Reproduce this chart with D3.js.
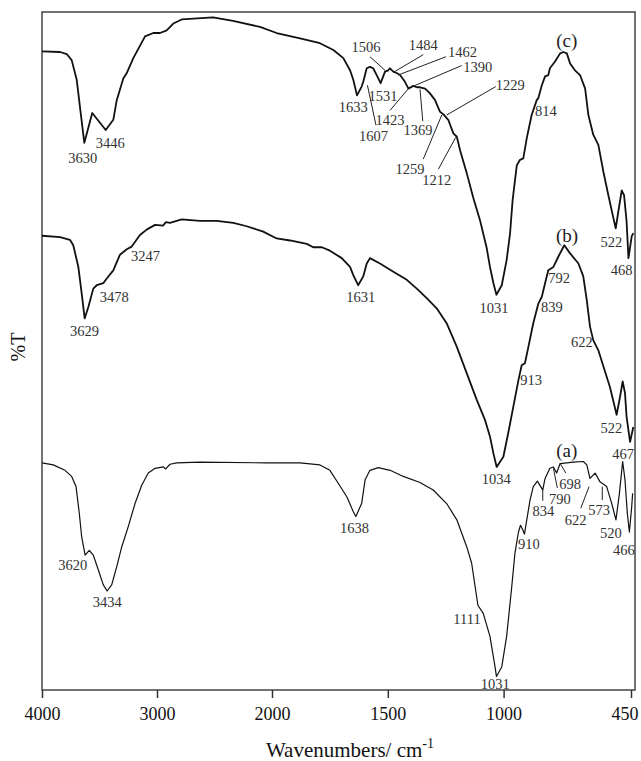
<!DOCTYPE html>
<html>
<head>
<meta charset="utf-8">
<script src="https://cdn.jsdelivr.net/npm/d3@7"></script>
<style>
  body { margin: 0; background: #fff; }
  svg { display: block; }
  text { font-family: "Liberation Serif", "Times New Roman", serif; }
</style>
</head>
<body>
<div id="chart"></div>
<script>
// tick labels on the wavenumber axis (scale changes at 2000)
var xTicks = [4000, 3000, 2000, 1500, 1000, 450];

// spectra: [wavenumber, %T]  (offset as stacked in the figure)
var specC = [[4000,94.2],[3843,94.1],[3785,93.8],[3742,92.9],[3698,90.0],[3670,86.0],[3632,80.7],[3563,85.1],
  [3446,82.6],[3380,84.1],[3350,87.0],[3293,90.2],[3263,91.0],[3206,93.2],[3104,96.4],[3032,96.9],[2974,96.9],
  [2916,97.3],[2858,98.3],[2785,98.9],[2513,99.2],[2339,98.7],[2104,97.8],[1980,96.9],[1879,96.1],[1793,95.4],
  [1735,94.4],[1692,93.2],[1663,91.4],[1649,90.0],[1633,87.7],[1613,89.0],[1606,89.7],[1591,91.7],[1577,91.9],
  [1563,91.7],[1548,90.7],[1531,89.5],[1512,91.2],[1498,91.4],[1491,91.7],[1476,91.2],[1462,91.0],[1447,90.7],
  [1426,89.7],[1411,88.7],[1390,89.1],[1375,88.9],[1361,88.9],[1339,88.7],[1318,88.0],[1296,87.0],[1275,85.3],
  [1257,84.8],[1239,84.1],[1217,82.1],[1202,81.6],[1188,79.6],[1159,76.2],[1131,72.6],[1102,69.3],[1073,65.2],
  [1059,62.4],[1044,60.0],[1031,58.3],[1008,59.7],[987,63.4],[972,67.4],[961,72.3],[943,77.4],[929,78.2],
  [915,78.4],[900,81.4],[879,84.8],[857,87.0],[850,87.3],[835,89.2],[821,90.5],[807,90.7],[800,91.7],[778,92.7],
  [756,93.9],[742,94.1],[727,93.9],[713,92.4],[692,91.4],[670,90.7],[648,88.7],[634,84.8],[613,81.9],[591,80.4],
  [569,76.4],[548,73.0],[526,69.6],[516,68.1],[505,70.5],[490,73.7],[480,73.0],[469,69.1],[461,63.7],[447,66.9],
  [440,67.4]];

var specB = [[4000,67.0],[3843,66.8],[3757,66.4],[3728,65.6],[3684,62.4],[3655,58.5],[3629,54.8],[3597,56.5],
  [3554,59.2],[3524,59.7],[3467,60.0],[3437,60.7],[3380,61.9],[3322,64.2],[3263,65.0],[3220,65.4],[3148,67.1],
  [3090,67.9],[3017,68.6],[2948,68.5],[2922,69.0],[2887,68.9],[2785,69.4],[2626,69.2],[2481,69.2],[2336,68.9],
  [2220,68.4],[2076,67.6],[1980,66.6],[1922,66.3],[1850,65.8],[1822,65.3],[1785,65.3],[1750,64.8],[1699,63.7],
  [1663,62.4],[1649,61.2],[1628,59.7],[1606,61.0],[1591,62.9],[1577,63.7],[1534,62.9],[1476,61.7],[1418,60.5],
  [1375,59.2],[1332,57.8],[1289,56.3],[1246,54.1],[1202,50.6],[1159,46.7],[1116,42.8],[1080,39.8],[1059,37.4],
  [1044,34.9],[1030,32.9],[1001,34.4],[980,37.9],[958,41.8],[936,45.7],[922,47.9],[908,48.2],[893,50.6],
  [872,54.1],[850,57.0],[835,58.0],[821,60.0],[807,61.9],[785,62.4],[764,63.9],[738,65.6],[713,64.4],[677,62.9],
  [656,61.0],[641,57.5],[627,53.6],[613,51.6],[591,50.1],[569,47.7],[541,44.7],[512,40.6],[497,43.3],[486,45.5],
  [476,43.8],[469,40.3],[454,36.6],[440,38.8]];

var specA = [[4000,33.5],[3902,33.2],[3800,32.4],[3742,31.5],[3704,30.0],[3676,26.1],[3655,22.6],[3625,19.9],
  [3589,20.6],[3554,19.9],[3510,17.7],[3467,15.5],[3434,14.6],[3394,15.5],[3350,18.2],[3307,21.1],[3250,24.1],
  [3191,27.5],[3133,30.2],[3076,32.0],[3017,32.7],[2945,32.9],[2924,32.6],[2887,33.3],[2829,33.5],[2626,33.6],
  [2046,33.5],[1879,33.5],[1793,33.2],[1750,32.4],[1714,30.5],[1677,28.5],[1649,26.3],[1638,25.6],[1613,27.5],
  [1598,31.0],[1577,32.4],[1541,32.8],[1490,32.4],[1433,31.5],[1361,30.6],[1304,29.5],[1246,27.5],[1202,25.1],
  [1159,21.1],[1138,18.7],[1111,12.5],[1088,11.3],[1059,7.9],[1037,3.4],[1031,2.0],[1008,3.4],[987,7.9],
  [965,15.2],[951,20.2],[936,23.3],[927,24.3],[917,23.6],[910,23.0],[900,25.1],[886,28.0],[872,30.0],[854,30.8],
  [840,30.0],[831,29.5],[821,31.2],[800,32.7],[785,32.9],[771,32.0],[756,33.4],[699,33.6],[656,33.7],[641,33.2],
  [627,31.2],[605,32.0],[584,30.7],[555,30.0],[533,27.5],[515,25.1],[500,29.0],[486,33.7],[476,31.0],[466,26.1],
  [457,23.3],[447,27.0],[443,29.0]];

// peak labels: [text, wavenumber, %T] (text centre / baseline)
var labelsC = [["3630",3645,77.8],["3446",3407,79.9],["1633",1649,85.2],["1531",1521,86.9],["1607",1562,81.0],
  ["1506",1594,94.1],["1484",1347,94.4],["1462",1177,93.4],["1390",1112,91.2],["1423",1490,83.3],["1369",1370,81.8],
  ["1229",971,88.5],["1259",1404,76.1],["1212",1289,74.5],["814",817,84.7],["522",535,65.4],["468",491,61.2]];
var labelsB = [["3629",3630,52.2],["3478",3372,57.3],["3247",3100,63.3],["1631",1617,57.2],["1031",1041,55.6],
  ["792",760,60.0],["839",792,55.8],["622",662,50.6],["913",881,45.0],["522",535,37.9],["467",484,34.0],
  ["1034",1032,30.4]];
var labelsA = [["3620",3732,17.7],["3434",3433,12.2],["1638",1644,23.2],["1111",1158,9.7],["1031",1036,0.1],
  ["910",891,20.8],["834",828,25.7],["790",757,27.5],["698",713,29.7],["622",689,24.3],["573",588,25.8],
  ["520",537,22.4],["466",481,19.9]];
var curveNames = [["(c)",727,94.9],["(b)",726,66.1],["(a)",727,34.4]];

// leader lines: [wn1, %T1, wn2, %T2]
var leaders = [[1577,93.4,1512,91.4],[1347,93.7,1476,91.1],[1249,93.4,1455,90.7],[1181,92.1,1387,89.1],
  [1490,85.5,1411,88.7],[1349,83.9,1361,88.6],[1551,83.3,1588,89.2],[1034,89.0,1246,84.8],[1347,78.3,1267,84.8],
  [1282,76.8,1207,81.5],
  [831,29.6,831,27.9],[768,29.8,785,32.7],[731,32.0,756,33.4],[667,26.8,631,30.0],[574,30.0,574,28.0]];

var W = 641, H = 761;
var plotLeft = 42, plotRight = 635, plotTop = 12, plotBottom = 690;

var svg = d3.select("#chart").append("svg")
  .attr("width", W)
  .attr("height", H);

// two linear pieces: 4000-2000 compressed, 2000-450 expanded
var x = d3.scaleLinear()
  .domain([4000, 2000, 450])
  .range([plotLeft, 272, 631]);
var y = d3.scaleLinear()
  .domain([0, 100])
  .range([plotBottom, plotTop]);

// frame
svg.append("rect")
  .attr("x", plotLeft)
  .attr("y", plotTop)
  .attr("width", plotRight - plotLeft)
  .attr("height", plotBottom - plotTop)
  .attr("fill", "none")
  .attr("stroke", "#444")
  .attr("stroke-width", 1.5);

// x axis
var xAxis = d3.axisBottom(x)
  .tickValues(xTicks)
  .tickFormat(d3.format("d"))
  .tickSizeInner(8)
  .tickSizeOuter(0)
  .tickPadding(9);
var gx = svg.append("g")
  .attr("transform", "translate(0," + plotBottom + ")")
  .call(xAxis);
gx.select(".domain").remove();
gx.selectAll(".tick line").attr("stroke", "#333").attr("stroke-width", 1.5);
gx.selectAll(".tick text")
  .attr("font-family", "Liberation Serif")
  .attr("font-size", 18)
  .attr("fill", "#111");
// last label sits just inside the page edge
gx.selectAll(".tick text")
  .filter(function(d){ return d == 450; })
  .attr("text-anchor", "end")
  .attr("x", 7);

// spectra
var line = d3.line()
  .x(function(d){ return x(d[0]); })
  .y(function(d){ return y(d[1]); });

[[specC, 1.8], [specB, 1.8], [specA, 1.2]].forEach(function(s){
  svg.append("path")
    .datum(s[0])
    .attr("d", line)
    .attr("fill", "none")
    .attr("stroke", "#111")
    .attr("stroke-width", s[1])
    .attr("stroke-linejoin", "round");
});

// leader lines
svg.selectAll(".leader")
  .data(leaders)
  .enter().append("line")
  .attr("class", "leader")
  .attr("x1", function(d){ return x(d[0]); })
  .attr("y1", function(d){ return y(d[1]); })
  .attr("x2", function(d){ return x(d[2]); })
  .attr("y2", function(d){ return y(d[3]); })
  .attr("stroke", "#222")
  .attr("stroke-width", 1);

// peak labels
var allLabels = labelsC.concat(labelsB, labelsA);
svg.selectAll(".peak")
  .data(allLabels)
  .enter().append("text")
  .attr("class", "peak")
  .attr("x", function(d){ return x(d[1]); })
  .attr("y", function(d){ return y(d[2]); })
  .attr("text-anchor", "middle")
  .attr("font-size", 14.5)
  .attr("fill", "#333")
  .text(function(d){ return d[0]; });

svg.selectAll(".cname")
  .data(curveNames)
  .enter().append("text")
  .attr("class", "cname")
  .attr("x", function(d){ return x(d[1]); })
  .attr("y", function(d){ return y(d[2]); })
  .attr("text-anchor", "middle")
  .attr("font-size", 19)
  .attr("fill", "#222")
  .text(function(d){ return d[0]; });

// axis titles
var xl = svg.append("text")
  .attr("x", 350)
  .attr("y", 757)
  .attr("text-anchor", "middle")
  .attr("font-size", 21)
  .attr("fill", "#111");
xl.append("tspan").text("Wavenumbers/ cm");
xl.append("tspan").attr("dy", -9).attr("font-size", 14).text("-1");

svg.append("text")
  .attr("transform", "translate(25,347) rotate(-90)")
  .attr("text-anchor", "middle")
  .attr("font-size", 20)
  .attr("fill", "#111")
  .text("%T");
</script>
</body>
</html>
